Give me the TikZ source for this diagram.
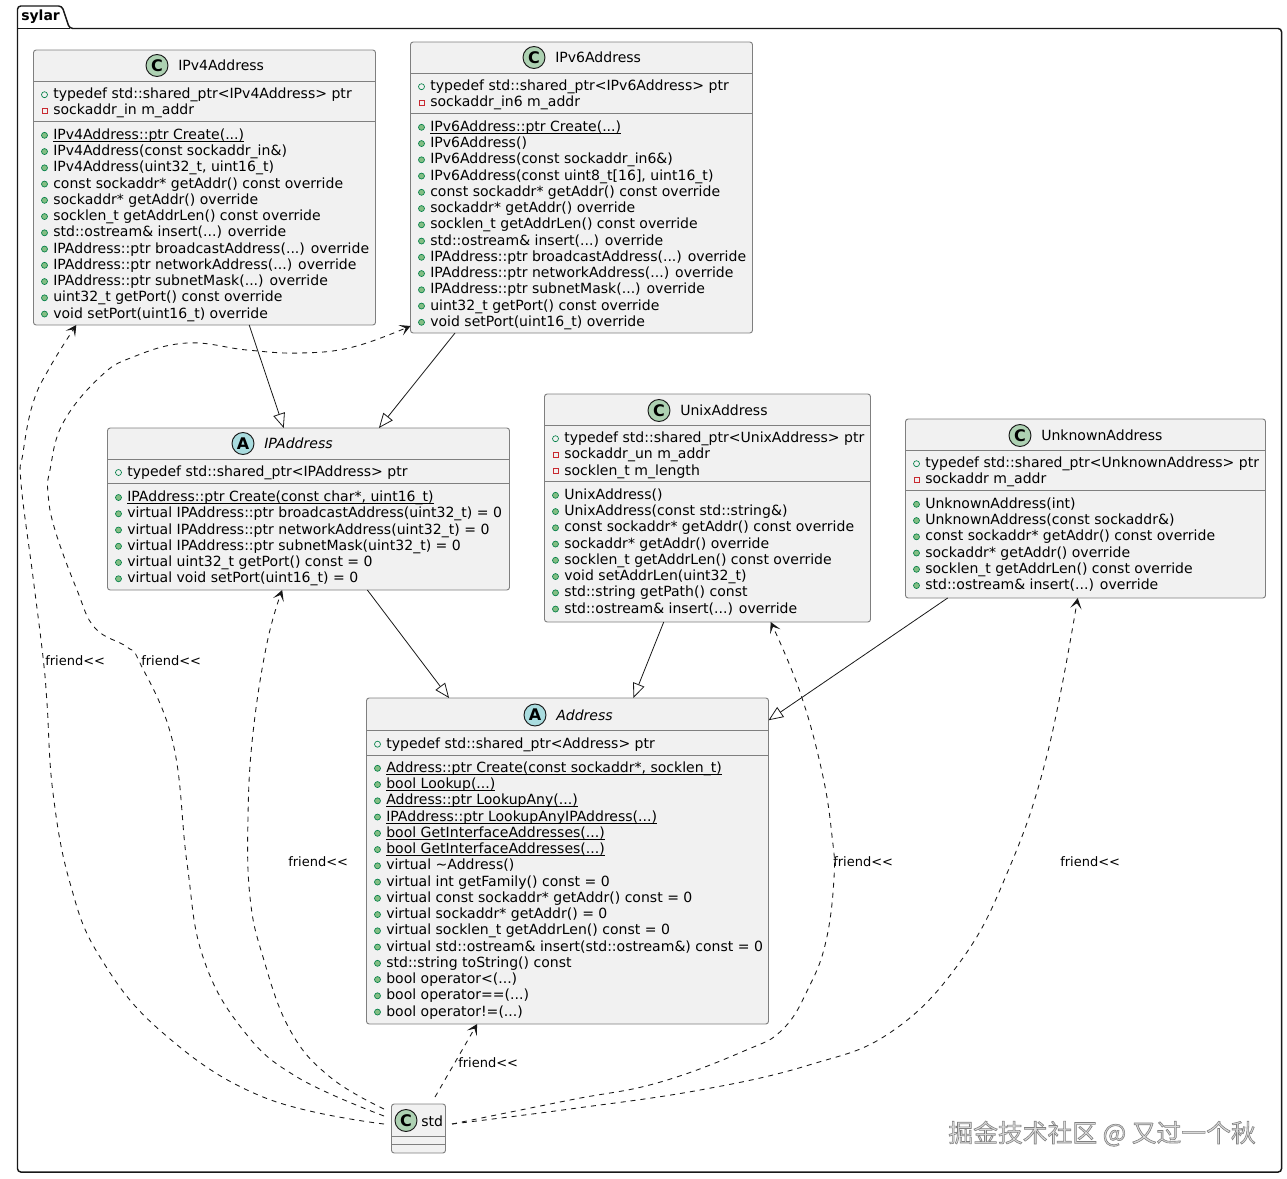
\documentclass[tikz,border=0pt]{standalone}
\usepackage{fontspec}
\setmainfont{DejaVu Sans}
\newfontfamily\cjkfont{Noto Sans CJK SC}
\usetikzlibrary{arrows.meta,fit,shapes.geometric}
\definecolor{boxfill}{HTML}{F1F1F1}
\definecolor{boxline}{HTML}{7F7F7F}
\definecolor{inkline}{HTML}{181818}
\definecolor{classspot}{HTML}{ADD1B2}
\definecolor{abstractspot}{HTML}{A9DCDF}
\definecolor{pubgreen}{HTML}{038048}
\definecolor{pubfill}{HTML}{84BE84}
\definecolor{privred}{HTML}{C82930}
\tikzset{
  classbox/.style={draw=boxline,fill=boxfill,line width=.7pt,rounded corners=2pt,inner sep=0pt,outer sep=0pt},
  sepline/.style={boxline,line width=.7pt},
  pkgline/.style={inkline,line width=1.1pt,rounded corners=2.5pt},
  spot/.style={circle,draw=inkline,line width=.7pt,minimum size=16.5pt,inner sep=0pt,font=\fontsize{12}{12}\bfseries\selectfont},
  title/.style={anchor=base west,inner sep=0pt,font=\fontsize{10.53}{12}\selectfont},
  member/.style={anchor=base west,inner sep=0pt,font=\fontsize{10.53}{12}\selectfont},
  rel/.style={anchor=base west,inner sep=0pt,font=\fontsize{9.75}{12}\selectfont},
  pubfield/.style={circle,draw=pubgreen,line width=.5pt,minimum size=4.5pt,inner sep=0pt},
  method/.style={circle,draw=pubgreen,fill=pubfill,line width=.5pt,minimum size=4.5pt,inner sep=0pt},
  privfield/.style={rectangle,draw=privred,line width=.5pt,minimum size=4pt,inner sep=0pt},
  inherit/.style={-{Triangle[open,length=11pt,width=9pt]},inkline,line width=.6pt},
  friend/.style={-{Stealth[length=8pt,width=8.5pt,inset=4pt]},inkline,line width=.65pt,dash pattern=on 3.75pt off 3.75pt},
}
\newcommand{\dts}{...}
\newcommand{\ul}[1]{\underline{\smash{#1}}}
\newcommand{\members}[5]{%
  \foreach \t [count=\i from 0] in {#5}{
    \node[#1] (#2-m\i) at (#3+11,#4+16.25*\i-4) {};
    \node[member] (#2-\i) at (#3+19.5,#4+16.25*\i) {\t};
  }}

\begin{document}
\begin{tikzpicture}[x=0.75pt,y=-0.75pt]
\useasboundingbox (0,0) rectangle (1287,1178);
\draw[pkgline] (17.5,1172) -- (17.5,6) -- (62,6) -- (69.5,28.5) -- (1281.5,28.5) -- (1281.5,1172) -- cycle;
\draw[inkline,line width=1.1pt] (17.5,28.5) -- (69.5,28.5);
\node[anchor=base west,inner sep=0pt,font=\fontsize{10.5}{12}\bfseries\selectfont] (sylar) at (21,20.7) {sylar};
\foreach \n/\xa/\ya/\xb/\yb/\sa/\sb in {v4/33.5/50/375.5/325/81.3/121.5,v6/410.5/42/752.5/333/73.3/113.5,ipa/107.5/428/509.5/590/459.5/483.5,unix/544.5/394/870.5/622/425.5/481.5,unk/905.5/419/1265.5/598/450.5/490.5,addr/366.5/698/768.5/1024/730.5/755.5,std/391.5/1104/445.5/1153/1136.5/1144.5}{
  \node[classbox,fit={(\xa,\ya) (\xb,\yb)}] (\n) {};
  \draw[sepline] (\xa,\sa) -- (\xb,\sa); \draw[sepline] (\xa,\sb) -- (\xb,\sb);
}
\foreach \n/\x/\y/\c/\l/\t in {v4/157/65.5/classspot/C/IPv4Address,v6/534/57.5/classspot/C/IPv6Address,ipa/243/443.5/abstractspot/A/\textit{IPAddress},unix/659/410.5/classspot/C/UnixAddress,unk/1020/435.5/classspot/C/UnknownAddress,addr/535/715/abstractspot/A/\textit{Address}}{
  \node[spot,fill=\c] (\n-spot) at (\x,\y) {\l};
  \node[title] (\n-title) at (\x+21,\y+5) {\t};
}
\node[spot,fill=classspot] (std-spot) at (406,1120.5) {C};
\node[title] (std-title) at (421,1126) {std};
\members{pubfield}{v4a}{33.5}{98.7}{typedef std::shared\_ptr<IPv4Address> ptr}
\members{privfield}{v4b}{33.5}{114.9}{sockaddr\_in m\_addr}
\members{method}{v4c}{33.5}{139.3}{\ul{IPv4Address::ptr Create(\dts)},IPv4Address(const sockaddr\_in\&),{IPv4Address(uint32\_t, uint16\_t)},const sockaddr* getAddr() const override,sockaddr* getAddr() override,socklen\_t getAddrLen() const override,std::ostream\& insert(\dts) override,IPAddress::ptr broadcastAddress(\dts) override,IPAddress::ptr networkAddress(\dts) override,IPAddress::ptr subnetMask(\dts) override,uint32\_t getPort() const override,void setPort(uint16\_t) override}
\members{pubfield}{v6a}{410.5}{90.7}{typedef std::shared\_ptr<IPv6Address> ptr}
\members{privfield}{v6b}{410.5}{106.9}{sockaddr\_in6 m\_addr}
\members{method}{v6c}{410.5}{131.3}{\ul{IPv6Address::ptr Create(\dts)},IPv6Address(),IPv6Address(const sockaddr\_in6\&),{IPv6Address(const uint8\_t[16], uint16\_t)},const sockaddr* getAddr() const override,sockaddr* getAddr() override,socklen\_t getAddrLen() const override,std::ostream\& insert(\dts) override,IPAddress::ptr broadcastAddress(\dts) override,IPAddress::ptr networkAddress(\dts) override,IPAddress::ptr subnetMask(\dts) override,uint32\_t getPort() const override,void setPort(uint16\_t) override}
\members{pubfield}{ipaa}{107.5}{476.5}{typedef std::shared\_ptr<IPAddress> ptr}
\members{method}{ipac}{107.5}{501.5}{{\ul{IPAddress::ptr Create(const char*, uint16\_t)}},virtual IPAddress::ptr broadcastAddress(uint32\_t) = 0,virtual IPAddress::ptr networkAddress(uint32\_t) = 0,virtual IPAddress::ptr subnetMask(uint32\_t) = 0,virtual uint32\_t getPort() const = 0,virtual void setPort(uint16\_t) = 0}
\members{pubfield}{unixa}{544.5}{442.7}{typedef std::shared\_ptr<UnixAddress> ptr}
\members{privfield}{unixb}{544.5}{458.9}{sockaddr\_un m\_addr,socklen\_t m\_length}
\members{method}{unixc}{544.5}{499.3}{UnixAddress(),UnixAddress(const std::string\&),const sockaddr* getAddr() const override,sockaddr* getAddr() override,socklen\_t getAddrLen() const override,void setAddrLen(uint32\_t),std::string getPath() const,std::ostream\& insert(\dts) override}
\members{pubfield}{unka}{905.5}{467.7}{typedef std::shared\_ptr<UnknownAddress> ptr}
\members{privfield}{unkb}{905.5}{483.9}{sockaddr m\_addr}
\members{method}{unkc}{905.5}{508.3}{UnknownAddress(int),UnknownAddress(const sockaddr\&),const sockaddr* getAddr() const override,sockaddr* getAddr() override,socklen\_t getAddrLen() const override,std::ostream\& insert(\dts) override}
\members{pubfield}{addra}{366.5}{748.2}{typedef std::shared\_ptr<Address> ptr}
\members{method}{addrc}{366.5}{772.3}{{\ul{Address::ptr Create(const sockaddr*, socklen\_t)}},\ul{bool Lookup(\dts)},\ul{Address::ptr LookupAny(\dts)},\ul{IPAddress::ptr LookupAnyIPAddress(\dts)},\ul{bool GetInterfaceAddresses(\dts)},\ul{bool GetInterfaceAddresses(\dts)},virtual \textasciitilde Address(),virtual int getFamily() const = 0,virtual const sockaddr* getAddr() const = 0,virtual sockaddr* getAddr() = 0,virtual socklen\_t getAddrLen() const = 0,virtual std::ostream\& insert(std::ostream\&) const = 0,std::string toString() const,bool operator<(\dts),bool operator==(\dts),bool operator!=(\dts)}
\foreach \a/\b in {v4.-72.1/ipa.107.5,v6.-131.25/ipa.49.4,ipa.-54.2/addr.126,unix.-111.3/addr.68.4,unk.-147.9/addr.35.6}
  \draw[inherit] (\a) -- (\b);
\coordinate (stda) at ([shift={(-7.5,-4.5)}]std.west);
\coordinate (stdb) at ([shift={(-7.5,-12.5)}]std.west);
\coordinate (stdc) at ([shift={(-7.5,-19.5)}]std.west);
\coordinate (stdd) at ([shift={(6.5,-4.5)}]std.east);
\coordinate (stde) at ([shift={(16.5,-7)}]std.north);
\draw[friend] plot[smooth,tension=.7] coordinates {(stda) (263,1097) (163,1033) (100,957) (70,883) (53,793) (47,703) (43,657) (33,577) (21,483) (23,453) (33,403) (50,367) (v4.-133.3)};
\draw[friend] plot[smooth,tension=.7] coordinates {(stdb) (297,1077) (243,1030) (203,957) (187,863) (173,743) (140,663) (127,647) (95,628) (77,590) (55,530) (48,493) (50,470) (63,423) (100,377) (133,357) (187,343) (247,350) (300,353) (353,347) (v6.-141.2)};
\draw[friend] plot[smooth,tension=.7] coordinates {(stdc) (330,1077) (290,1030) (263,957) (250,897) (248,817) (253,733) (267,643) (ipa.-108.1)};
\draw[friend] plot[smooth,tension=.7] coordinates {(stdd) (570,1100) (657,1083) (744,1051) (783,1029) (809,987) (826,941) (834,878) (832,836) (822,772) (800,692) (unix.-61.7)};
\draw[friend] plot[smooth,tension=.7] coordinates {(stdd) (570,1109) (700,1090) (809,1065) (891,1032) (960,962) (1008,871) (1047,755) (unk.-95.4)};
\draw[friend] (stde) -- (addr.-119);
\foreach \n/\x/\y in {fa/45/665,fb/141/665,fc/288/866,fd/833/866,fe/1060/866,ff/458/1067}
  \node[rel] (\n) at (\x,\y) {friend<{}<};
\node[anchor=base east,inner sep=0pt,font=\cjkfont\fontsize{18.6}{22}\selectfont] (mark) at (1256,1142) {\special{pdf:code q 2 Tr 0.45 w 0.5 G 0.86 g}掘金技术社区 @ 又过一个秋\special{pdf:code Q}};
\end{tikzpicture}
\end{document}
